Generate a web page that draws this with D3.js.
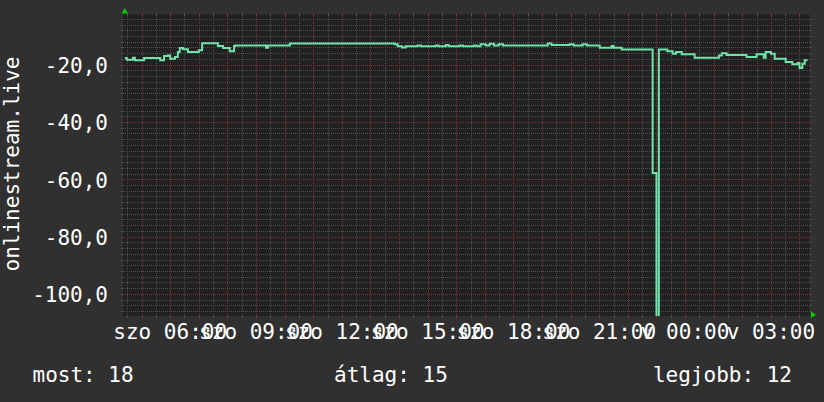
<!DOCTYPE html>
<html><head><meta charset="utf-8">
<script src="https://cdn.jsdelivr.net/npm/d3@7"></script>
<style>
html,body{margin:0;padding:0;background:#303030;}
svg{display:block;}
text{font-family:"DejaVu Sans Mono",monospace;fill:#ffffff;}
</style></head>
<body>
<svg id="chart" width="824" height="402"></svg>
<script>
// ---- data ----
const windowStart = new Date(2024, 5, 15, 4, 21); // szombat 04:21
const windowHours = 24;
const minutesFromStart = [4,8,21,25,44,78,86,94,99,109,115,119,126,136,159,166,199,210,224,233,235,300,304,350,570,576,585,593,618,625,656,662,677,683,706,713,736,742,750,761,769,778,788,797,891,899,937,945,964,973,1000,1025,1029,1046,1111,1119,1124,1142,1153,1160,1172,1199,1250,1256,1266,1308,1329,1344,1348,1359,1367,1390,1404,1415,1419,1425,1430,1436];
const pingValues = [-17.7,-18.3,-17.6,-18.5,-17.7,-18.5,-17.0,-16.8,-17.9,-17.3,-15.6,-14.2,-14.6,-15.6,-15.0,-12.5,-13.5,-14.2,-15.3,-13.5,-13.3,-14.1,-13.3,-12.6,-12.9,-13.6,-14.0,-13.6,-13.3,-13.6,-13.3,-13.6,-13.1,-13.6,-13.3,-13.6,-13.3,-13.6,-12.9,-13.3,-12.7,-13.3,-12.9,-13.3,-12.6,-13.1,-12.9,-13.3,-12.9,-13.3,-14.1,-13.5,-14.1,-14.7,-57.8,-125,-14.7,-15.3,-16.2,-15.6,-16.4,-17.6,-16.8,-16.0,-16.6,-17.3,-16.4,-17.6,-15.6,-16.2,-17.9,-19.1,-19.9,-19.4,-21.2,-19.7,-18.5,-18.5];
const yDomain = [-107.7, -2.5];
const yTicks = [-20, -40, -60, -80, -100];
const yTickLabels = ["-20,0", "-40,0", "-60,0", "-80,0", "-100,0"];
const xTickLabels = ["szo 06:00", "szo 09:00", "szo 12:00", "szo 15:00", "szo 18:00", "szo 21:00", "v 00:00", "v 03:00"];
const yAxisTitle = "onlinestream.live";
const footerLabels = ["most: 18", "átlag: 15", "legjobb: 12"];

// ---- layout ----
const plot = {left: 123, right: 809.5, top: 14.5, bottom: 316};
const svg = d3.select("#chart");
const windowEnd = d3.timeHour.offset(windowStart, windowHours);
const x = d3.scaleTime().domain([windowStart, windowEnd]).range([plot.left, plot.right]);
const y = d3.scaleLinear().domain(yDomain).range([plot.bottom, plot.top]);
const px = v => Math.round(v) + 0.5;

svg.append("rect").attr("width", 824).attr("height", 402).attr("fill", "#303030");
svg.append("rect").attr("x", plot.left).attr("y", plot.top)
  .attr("width", plot.right - plot.left).attr("height", plot.bottom - plot.top)
  .attr("fill", "#212121");

const grid = svg.append("g").attr("shape-rendering", "crispEdges");
const minorColor = "#4e4e4e", majorColor = "#7a3434";

// horizontal grid
const minorY = d3.range(-106, -2, 2).filter(v => v % 20 !== 0);
function hLine(v, color) {
  const yy = px(y(v));
  grid.append("line").attr("x1", plot.left).attr("x2", plot.right).attr("y1", yy).attr("y2", yy)
    .attr("stroke", color).attr("stroke-dasharray", "1,1");
  grid.append("line").attr("x1", plot.left - 2).attr("x2", plot.left + 1).attr("y1", yy).attr("y2", yy).attr("stroke", color);
  grid.append("line").attr("x1", plot.right - 1).attr("x2", plot.right + 2).attr("y1", yy).attr("y2", yy).attr("stroke", color);
}
minorY.forEach(v => hLine(v, minorColor));

// vertical grid
const halfHours = x.ticks(d3.timeMinute.every(30)).filter(d => d.getMinutes() !== 0);
const hours = x.ticks(d3.timeHour.every(1));
function vLine(d, color) {
  const xx = px(x(d));
  grid.append("line").attr("x1", xx).attr("x2", xx).attr("y1", plot.top).attr("y2", plot.bottom)
    .attr("stroke", color).attr("stroke-dasharray", "1,1");
  grid.append("line").attr("x1", xx).attr("x2", xx).attr("y1", plot.top - 2).attr("y2", plot.top + 1).attr("stroke", color);
  grid.append("line").attr("x1", xx).attr("x2", xx).attr("y1", plot.bottom - 1).attr("y2", plot.bottom + 2).attr("stroke", color);
}
halfHours.forEach(d => vLine(d, minorColor));
hours.forEach(d => vLine(d, majorColor));
yTicks.forEach(v => hLine(v, majorColor));

// data line
const series = minutesFromStart.map((m, i) => ({t: d3.timeMinute.offset(windowStart, m), v: pingValues[i]}));
svg.append("clipPath").attr("id", "clip").append("rect")
  .attr("x", plot.left).attr("y", plot.top).attr("width", plot.right - plot.left).attr("height", plot.bottom - plot.top);
svg.append("path").datum(series)
  .attr("clip-path", "url(#clip)")
  .attr("fill", "none").attr("stroke", "#6fe3ab").attr("stroke-width", 2)
  .attr("d", d3.line().x(d => x(d.t)).y(d => y(d.v)).curve(d3.curveStepAfter));

// arrows
svg.append("path").attr("fill", "#00d000")
  .attr("d", `M${plot.left - 1.5},13.5 L${plot.left + 1.7},8 L${plot.left + 4.9},13.5 Z`);
svg.append("path").attr("fill", "#00d000")
  .attr("d", `M${plot.right + 1.5},311.5 L${plot.right + 6.5},314.8 L${plot.right + 1.5},318 Z`);

// y labels
svg.append("g").selectAll("text").data(yTicks).join("text")
  .attr("x", 108).attr("y", d => y(d) + 8.5)
  .attr("text-anchor", "end").attr("font-size", 21)
  .text((d, i) => yTickLabels[i]);

// x labels
const xTicks = x.ticks(d3.timeHour.every(3)).filter(d => d.getHours() % 3 === 0);
svg.append("g").selectAll("text").data(xTicks).join("text")
  .attr("x", d => x(d)).attr("y", 338.5)
  .attr("text-anchor", "middle").attr("font-size", 21)
  .text((d, i) => xTickLabels[i]);

// y axis title
svg.append("text").attr("transform", "translate(19,164) rotate(-90)")
  .attr("text-anchor", "middle").attr("font-size", 21).text(yAxisTitle);

// footer
svg.append("text").attr("x", 32.5).attr("y", 381.5).attr("font-size", 21).text(footerLabels[0]);
svg.append("text").attr("x", 334).attr("y", 381.5).attr("font-size", 21).text(footerLabels[1]);
svg.append("text").attr("x", 792).attr("y", 381.5).attr("text-anchor", "end").attr("font-size", 21).text(footerLabels[2]);
</script>
</body></html>
